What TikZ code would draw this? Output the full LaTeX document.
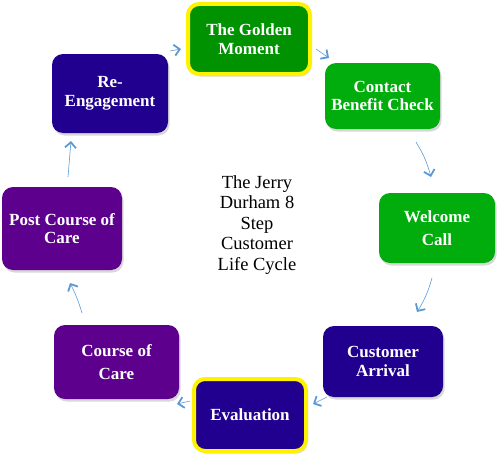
\documentclass[tikz,border=0pt]{standalone}
\usepackage{fontspec}
\setmainfont{Liberation Serif}
\usetikzlibrary{arrows.meta,shadows}
\definecolor{gdark}{HTML}{009200}
\definecolor{glight}{HTML}{00AD0C}
\definecolor{indig}{HTML}{22008F}
\definecolor{purp}{HTML}{5D008D}
\definecolor{arr}{HTML}{5B9BD5}
\begin{document}
\begin{tikzpicture}[x=1pt,y=-1pt,
 stepbox/.style={rounded corners=11pt, text=white, font=\fontsize{17}{18.5}\selectfont\bfseries, align=center, inner sep=0pt,
   drop shadow={shadow xshift=1.5pt,shadow yshift=-2.5pt,fill=black!30}},
 hl/.style={draw=yellow, line width=4pt},
 wide/.style={font=\fontsize{17}{23}\selectfont\bfseries},
 flow/.style={draw=arr, line width=0.6pt, -{Straight Barb[length=5.5pt,width=11pt,line width=1.8pt]}}
]
\useasboundingbox (0,0) rectangle (497,460);
\node[stepbox,hl,fill=gdark,minimum width=122pt,minimum height=70pt] (gold) at (249,39) {The Golden\\Moment};
\node[stepbox,fill=glight,minimum width=115pt,minimum height=66pt] (contact) at (382.5,96) {Contact\\Benefit Check};
\node[stepbox,wide,fill=glight,minimum width=116pt,minimum height=70pt] (welcome) at (437,228) {Welcome\\Call};
\node[stepbox,fill=indig,minimum width=120pt,minimum height=71pt] (arrival) at (383,361.5) {Customer\\Arrival};
\node[stepbox,hl,fill=indig,minimum width=112pt,minimum height=72pt] (eval) at (250,415) {Evaluation};
\node[stepbox,wide,fill=purp,minimum width=125pt,minimum height=74pt] (course) at (116.5,362) {Course of\\Care};
\node[stepbox,fill=purp,minimum width=120pt,minimum height=83pt] (post) at (62,228.5) {Post Course of\\Care};
\node[stepbox,fill=indig,minimum width=116pt,minimum height=79pt] (reeng) at (110,93.5) {Re-\\Engagement};
\node[align=center,font=\fontsize{18.5}{20.5}\selectfont] (title) at (257,225) {The Jerry\\Durham 8\\Step\\Customer\\Life Cycle};
\coordinate (a1s) at (170,51); \coordinate (a1e) at (181,49);
\coordinate (a2s) at (316,49); \coordinate (a2e) at (329,58);
\coordinate (a3s) at (416,142); \coordinate (a3e) at (431,177);
\coordinate (a4s) at (432,278); \coordinate (a4e) at (417,312);
\coordinate (a5s) at (327,397); \coordinate (a5e) at (313,404);
\coordinate (a6s) at (190,401); \coordinate (a6e) at (177,404);
\coordinate (a7s) at (82,313); \coordinate (a7e) at (70,283);
\coordinate (a8s) at (68,177); \coordinate (a8e) at (71,141);
\draw[flow] (a1s) -- (a1e);
\draw[flow] (a2s) -- (a2e);
\draw[flow] (a3s) to[bend left=8] (a3e);
\draw[flow] (a4s) to[bend left=8] (a4e);
\draw[flow] (a5s) -- (a5e);
\draw[flow] (a6s) -- (a6e);
\draw[flow] (a7s) to[bend right=5] (a7e);
\draw[flow] (a8s) -- (a8e);
\end{tikzpicture}
\end{document}
